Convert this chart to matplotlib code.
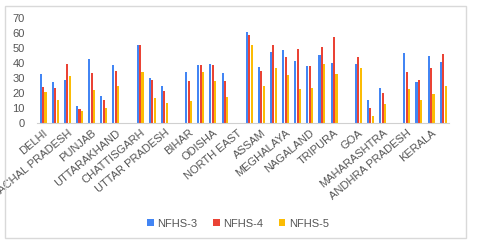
import numpy as np
import matplotlib.pyplot as plt
from matplotlib.patches import Rectangle

plt.rcParams['font.family'] = ['Liberation Sans', 'DejaVu Sans']

# Categories (every other label is shown on the axis)
states = ['DELHI', 'HARYANA', 'HIMACHAL PRADESH', 'JAMMU & KASHMIR', 'PUNJAB',
          'RAJASTHAN', 'UTTARAKHAND', 'CENTRAL', 'CHATTISGARH', 'MADHYA PRADESH',
          'UTTAR PRADESH', 'EAST', 'BIHAR', 'JHARKHAND', 'ODISHA', 'WEST BENGAL',
          'NORTH EAST', 'ARUNACHAL PRADESH', 'ASSAM', 'MANIPUR', 'MEGHALAYA',
          'MIZORAM', 'NAGALAND', 'SIKKIM', 'TRIPURA', 'WEST', 'GOA', 'GUJARAT',
          'MAHARASHTRA', 'SOUTH', 'ANDHRA PRADESH', 'KARNATAKA', 'KERALA',
          'TAMIL NADU']

nan = np.nan
nfhs3 = [32.5, 27.2, 29.0, 11.7, 42.9, 18.1, 38.5, nan, 51.9, 30.1, 24.8, nan,
         34.2, 38.5, 39.1, 33.4, nan, 60.7, 37.1, 47.1, 48.6, 41.3, 37.8, 45.1,
         40.0, nan, 39.3, 15.3, 23.4, nan, 46.6, 27.4, 44.8, 40.9]
nfhs4 = [24.1, 23.7, 39.1, 9.8, 33.4, 15.3, 34.5, nan, 52.1, 29.0, 21.3, nan,
         28.1, 38.7, 38.7, 28.1, nan, 58.8, 34.9, 52.1, 44.0, 49.3, 38.2, 50.6,
         57.0, nan, 44.2, 10.2, 19.9, nan, 34.2, 28.7, 36.7, 46.0]
nfhs5 = [20.8, 15.5, 31.4, 8.0, 22.1, 10.2, 24.8, nan, 34.0, 16.6, 13.5, nan,
         14.8, 34.0, 28.1, 17.7, nan, 52.1, 24.6, 36.9, 31.8, 23.0, 23.4, 39.1,
         32.5, nan, 36.5, 4.9, 13.0, nan, 22.8, 15.5, 19.3, 24.8]

series = ['NFHS-3', 'NFHS-4', 'NFHS-5']
colors = ['#4285F4', '#EA4335', '#FBBC04']
text_color = '#555555'

fig = plt.figure(figsize=(4.81, 2.46), dpi=100)
ax = fig.add_axes([0.077, 0.498, 0.857, 0.430])

x = np.arange(len(states))
w = 0.2
for i, (vals, name, c) in enumerate(zip([nfhs3, nfhs4, nfhs5], series, colors)):
    ax.bar(x + (i - 1) * w, vals, width=w * 0.85, color=c, label=name)

ax.set_xlim(-0.5, len(states) - 0.5)
ax.set_ylim(0, 70)
ax.set_yticks(range(0, 71, 10))
ax.tick_params(axis='y', length=0, pad=9, labelsize=8, labelcolor=text_color)
ax.set_xticks(x[::2])
ax.set_xticklabels(states[::2], rotation=40, ha='right', va='top',
                   rotation_mode='anchor', fontsize=8, color=text_color)
ax.tick_params(axis='x', length=0, pad=3)

for s in ['top', 'right', 'left']:
    ax.spines[s].set_visible(False)
ax.spines['bottom'].set_color('#d0d0d0')

fig.legend(loc='center', bbox_to_anchor=(0.495, 0.09), ncol=3, frameon=False,
           fontsize=8, handlelength=0.6, handleheight=0.6, handletextpad=0.3,
           columnspacing=1.4, labelcolor=text_color)

# light frame around the chart
fig.patches.append(Rectangle((0.0104, 0.0325), 0.958, 0.943, transform=fig.transFigure,
                             fill=False, edgecolor='#d9d9d9', linewidth=1))

fig.savefig('out.png', dpi=100)
